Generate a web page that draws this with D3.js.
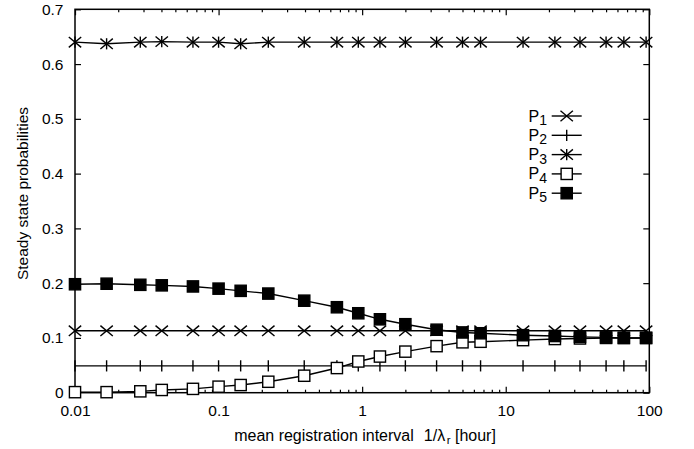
<!DOCTYPE html>
<html>
<head>
<meta charset="utf-8">
<script src="https://cdn.jsdelivr.net/npm/d3@7"></script>
<style>
  html, body { margin: 0; padding: 0; background: #fff; }
  svg { display: block; font-family: "Liberation Sans", Arial, Helvetica, sans-serif; }
</style>
</head>
<body>
<svg id="chart" width="694" height="449"></svg>
<script>
// ---- data ----
const xValues = [0.01, 0.0166, 0.0285, 0.0402, 0.0663, 0.1, 0.1425, 0.222, 0.395, 0.667,
                 0.94, 1.33, 2.0, 3.3, 5.0, 6.68, 13.2, 22.0, 32.9, 50.0, 66.5, 95.0];
const p1 = [0.113, 0.113, 0.113, 0.113, 0.113, 0.113, 0.113, 0.113, 0.113, 0.113, 0.113,
            0.113, 0.113, 0.113, 0.113, 0.113, 0.113, 0.113, 0.113, 0.113, 0.113, 0.113];
const p2 = [0.049, 0.049, 0.049, 0.049, 0.049, 0.049, 0.049, 0.049, 0.049, 0.049, 0.049,
            0.049, 0.049, 0.049, 0.049, 0.049, 0.049, 0.049, 0.049, 0.049, 0.049, 0.049];
const p3 = [0.640, 0.637, 0.640, 0.641, 0.640, 0.640, 0.637, 0.640, 0.640, 0.640, 0.640,
            0.640, 0.640, 0.640, 0.640, 0.640, 0.640, 0.640, 0.640, 0.640, 0.640, 0.640];
const p4 = [0.001, 0.001, 0.0025, 0.005, 0.007, 0.011, 0.014, 0.020, 0.031, 0.045, 0.057,
            0.066, 0.075, 0.085, 0.092, 0.093, 0.096, 0.098, 0.099, 0.100, 0.100, 0.100];
const p5 = [0.198, 0.199, 0.197, 0.196, 0.194, 0.190, 0.186, 0.181, 0.168, 0.156, 0.145,
            0.134, 0.125, 0.115, 0.110, 0.1085, 0.105, 0.1035, 0.102, 0.101, 0.100, 0.100];
const seriesNames = ["1", "2", "3", "4", "5"];
const seriesMarkers = ["x", "plus", "star", "openSquare", "filledSquare"];
const xTickValues = [0.01, 0.1, 1, 10, 100];
const xTickLabels = ["0.01", "0.1", "1", "10", "100"];
const yTickValues = [0, 0.1, 0.2, 0.3, 0.4, 0.5, 0.6, 0.7];
const yTickLabels = ["0", "0.1", "0.2", "0.3", "0.4", "0.5", "0.6", "0.7"];
const xMinorTicks = [0.02, 0.03, 0.04, 0.05, 0.06, 0.07, 0.08, 0.09,
                     0.2, 0.3, 0.4, 0.5, 0.6, 0.7, 0.8, 0.9,
                     2, 3, 4, 5, 6, 7, 8, 9,
                     20, 30, 40, 50, 60, 70, 80, 90];

// ---- layout ----
const L = 75, R = 649.3, T = 9.3, B = 392.7;
const FS = 15.5;
const svg = d3.select("#chart");
const x = d3.scaleLog().domain([0.01, 100]).range([L, R]);
const y = d3.scaleLinear().domain([0, 0.7]).range([B, T]);

// ---- axes (gnuplot style: inward ticks, mirrored) ----
const fmtX = d => xTickLabels[xTickValues.indexOf(d)];
const fmtY = d => yTickLabels[yTickValues.indexOf(d)];

function styleAxis(g) {
  g.select(".domain").remove();
  g.selectAll("line").attr("stroke", "#000").attr("stroke-width", 1.2);
  g.selectAll("text").attr("fill", "#000").style("font-size", FS + "px")
    .style("font-family", "'Liberation Sans', Arial, Helvetica, sans-serif");
}

svg.append("g").attr("transform", `translate(0,${B})`)
  .call(d3.axisBottom(x).tickValues(xTickValues).tickFormat(fmtX).tickSize(-6).tickPadding(12))
  .call(styleAxis);
svg.append("g").attr("transform", `translate(0,${B})`)
  .call(d3.axisBottom(x).tickValues(xMinorTicks).tickFormat("").tickSize(-3))
  .call(styleAxis);
svg.append("g").attr("transform", `translate(0,${T})`)
  .call(d3.axisTop(x).tickValues(xTickValues).tickFormat("").tickSize(-6))
  .call(styleAxis);
svg.append("g").attr("transform", `translate(0,${T})`)
  .call(d3.axisTop(x).tickValues(xMinorTicks).tickFormat("").tickSize(-3))
  .call(styleAxis);
svg.append("g").attr("transform", `translate(${L},0)`)
  .call(d3.axisLeft(y).tickValues(yTickValues).tickFormat(fmtY).tickSize(-6).tickPadding(11.5))
  .call(styleAxis);
svg.append("g").attr("transform", `translate(${R},0)`)
  .call(d3.axisRight(y).tickValues(yTickValues).tickFormat("").tickSize(-6))
  .call(styleAxis);

// frame
svg.append("rect").attr("x", L).attr("y", T).attr("width", R - L).attr("height", B - T)
  .attr("fill", "none").attr("stroke", "#000").attr("stroke-width", 1.5);

// ---- axis titles ----
const xt = svg.append("text").attr("x", 365).attr("y", 440.5)
  .attr("text-anchor", "middle").style("font-size", "16px").attr("fill", "#000");
xt.append("tspan").text("mean registration interval");
xt.append("tspan").attr("dx", 10).text("1/λ");
xt.append("tspan").attr("dy", 3).attr("dx", 1.5).style("font-size", "11.5px").text("r");
xt.append("tspan").attr("dy", -3).text(" [hour]");

svg.append("text")
  .attr("transform", "translate(27.5,193.5) rotate(-90)")
  .attr("text-anchor", "middle").style("font-size", FS + "px").attr("fill", "#000")
  .text("Steady state probabilities");

// ---- markers ----
const SW = 1.4;
function drawMarker(g, type, cx, cy) {
  const line = (x1, y1, x2, y2) => g.append("line")
    .attr("x1", x1).attr("y1", y1).attr("x2", x2).attr("y2", y2)
    .attr("stroke", "#000").attr("stroke-width", SW);
  if (type === "x" || type === "star") {
    line(cx - 6.2, cy - 5.2, cx + 6.2, cy + 5.2);
    line(cx - 6.2, cy + 5.2, cx + 6.2, cy - 5.2);
  }
  if (type === "plus" || type === "star") {
    line(cx, cy - 5.6, cx, cy + 5.6);
  }
  if (type === "openSquare" || type === "filledSquare") {
    g.append("rect").attr("x", cx - 5.6).attr("y", cy - 5.6).attr("width", 11.2).attr("height", 11.2)
      .attr("fill", type === "filledSquare" ? "#000" : "#fff")
      .attr("stroke", "#000").attr("stroke-width", 1.4);
  }
}

const allSeries = [p1, p2, p3, p4, p5];
const lineGen = d3.line().x(d => x(d[0])).y(d => y(d[1]));
allSeries.forEach((vals, i) => {
  const g = svg.append("g");
  const pts = xValues.map((xv, j) => [xv, vals[j]]);
  g.append("path").attr("d", lineGen(pts)).attr("fill", "none")
    .attr("stroke", "#000").attr("stroke-width", SW);
  pts.forEach(p => drawMarker(g, seriesMarkers[i], x(p[0]), y(p[1])));
});

// ---- legend ----
const legY0 = 116, legDY = 19.3;
seriesNames.forEach((name, i) => {
  const ly = legY0 + i * legDY;
  const g = svg.append("g");
  const t = g.append("text").attr("x", 547).attr("y", ly + 5.5).attr("text-anchor", "end")
    .style("font-size", "16px").attr("fill", "#000");
  t.append("tspan").text("P");
  t.append("tspan").attr("dy", 3.5).style("font-size", "14px").text(name);
  g.append("line").attr("x1", 551.7).attr("x2", 581.7).attr("y1", ly).attr("y2", ly)
    .attr("stroke", "#000").attr("stroke-width", SW);
  drawMarker(g, seriesMarkers[i], 566.7, ly);
});
</script>
</body>
</html>
